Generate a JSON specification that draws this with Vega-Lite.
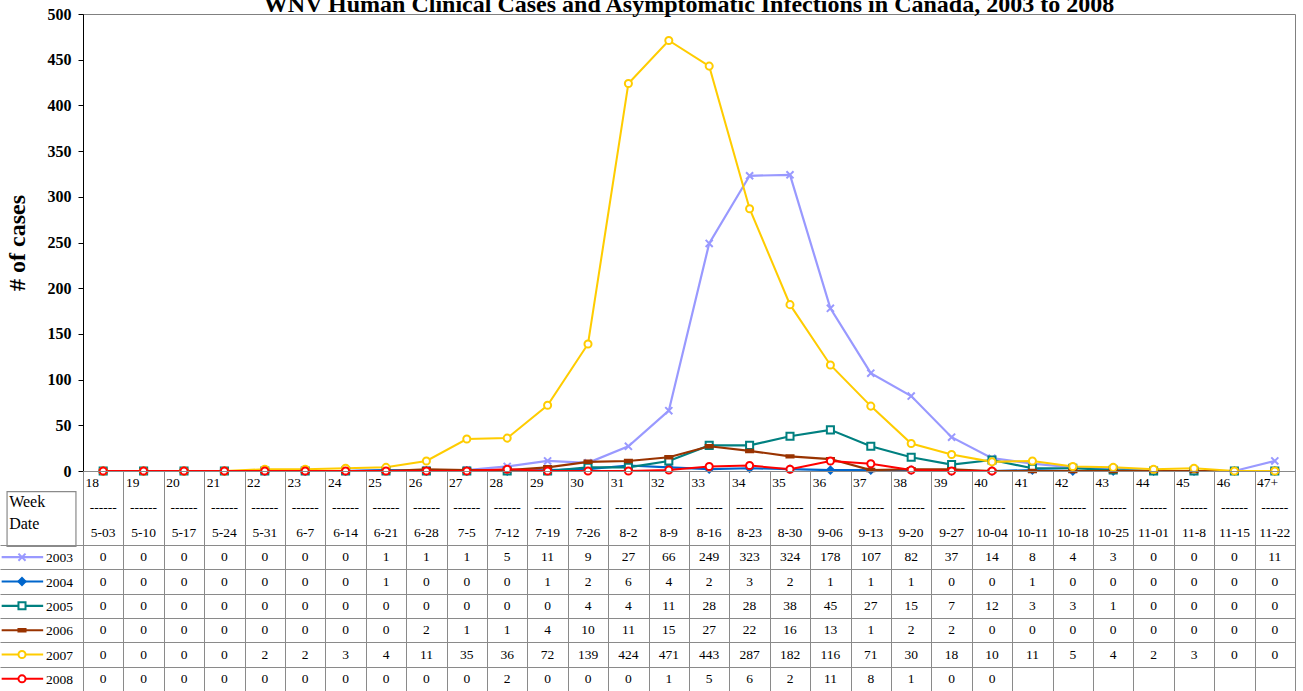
{
  "$schema": "https://vega.github.io/schema/vega-lite/v6.json",
  "padding": {"left": 0, "top": -8, "right": 0, "bottom": 0},
  "background": "#ffffff",
  "columns": 2,
  "spacing": 0,
  "bounds": "flush",
  "config": {
    "font": "Liberation Serif",
    "view": {"stroke": "#8a8a8a", "strokeWidth": 1},
    "text": {"font": "Liberation Serif", "color": "#000000"}
  },
  "datasets": {
    "weeks": [
      {"week": "18", "date": "5-03", "2003": 0, "2004": 0, "2005": 0, "2006": 0, "2007": 0, "2008": 0},
      {"week": "19", "date": "5-10", "2003": 0, "2004": 0, "2005": 0, "2006": 0, "2007": 0, "2008": 0},
      {"week": "20", "date": "5-17", "2003": 0, "2004": 0, "2005": 0, "2006": 0, "2007": 0, "2008": 0},
      {"week": "21", "date": "5-24", "2003": 0, "2004": 0, "2005": 0, "2006": 0, "2007": 0, "2008": 0},
      {"week": "22", "date": "5-31", "2003": 0, "2004": 0, "2005": 0, "2006": 0, "2007": 2, "2008": 0},
      {"week": "23", "date": "6-7", "2003": 0, "2004": 0, "2005": 0, "2006": 0, "2007": 2, "2008": 0},
      {"week": "24", "date": "6-14", "2003": 0, "2004": 0, "2005": 0, "2006": 0, "2007": 3, "2008": 0},
      {"week": "25", "date": "6-21", "2003": 1, "2004": 1, "2005": 0, "2006": 0, "2007": 4, "2008": 0},
      {"week": "26", "date": "6-28", "2003": 1, "2004": 0, "2005": 0, "2006": 2, "2007": 11, "2008": 0},
      {"week": "27", "date": "7-5", "2003": 1, "2004": 0, "2005": 0, "2006": 1, "2007": 35, "2008": 0},
      {"week": "28", "date": "7-12", "2003": 5, "2004": 0, "2005": 0, "2006": 1, "2007": 36, "2008": 2},
      {"week": "29", "date": "7-19", "2003": 11, "2004": 1, "2005": 0, "2006": 4, "2007": 72, "2008": 0},
      {"week": "30", "date": "7-26", "2003": 9, "2004": 2, "2005": 4, "2006": 10, "2007": 139, "2008": 0},
      {"week": "31", "date": "8-2", "2003": 27, "2004": 6, "2005": 4, "2006": 11, "2007": 424, "2008": 0},
      {"week": "32", "date": "8-9", "2003": 66, "2004": 4, "2005": 11, "2006": 15, "2007": 471, "2008": 1},
      {"week": "33", "date": "8-16", "2003": 249, "2004": 2, "2005": 28, "2006": 27, "2007": 443, "2008": 5},
      {"week": "34", "date": "8-23", "2003": 323, "2004": 3, "2005": 28, "2006": 22, "2007": 287, "2008": 6},
      {"week": "35", "date": "8-30", "2003": 324, "2004": 2, "2005": 38, "2006": 16, "2007": 182, "2008": 2},
      {"week": "36", "date": "9-06", "2003": 178, "2004": 1, "2005": 45, "2006": 13, "2007": 116, "2008": 11},
      {"week": "37", "date": "9-13", "2003": 107, "2004": 1, "2005": 27, "2006": 1, "2007": 71, "2008": 8},
      {"week": "38", "date": "9-20", "2003": 82, "2004": 1, "2005": 15, "2006": 2, "2007": 30, "2008": 1},
      {"week": "39", "date": "9-27", "2003": 37, "2004": 0, "2005": 7, "2006": 2, "2007": 18, "2008": 0},
      {"week": "40", "date": "10-04", "2003": 14, "2004": 0, "2005": 12, "2006": 0, "2007": 10, "2008": 0},
      {"week": "41", "date": "10-11", "2003": 8, "2004": 1, "2005": 3, "2006": 0, "2007": 11, "2008": null},
      {"week": "42", "date": "10-18", "2003": 4, "2004": 0, "2005": 3, "2006": 0, "2007": 5, "2008": null},
      {"week": "43", "date": "10-25", "2003": 3, "2004": 0, "2005": 1, "2006": 0, "2007": 4, "2008": null},
      {"week": "44", "date": "11-01", "2003": 0, "2004": 0, "2005": 0, "2006": 0, "2007": 2, "2008": null},
      {"week": "45", "date": "11-8", "2003": 0, "2004": 0, "2005": 0, "2006": 0, "2007": 3, "2008": null},
      {"week": "46", "date": "11-15", "2003": 0, "2004": 0, "2005": 0, "2006": 0, "2007": 0, "2008": null},
      {"week": "47+", "date": "11-22", "2003": 11, "2004": 0, "2005": 0, "2006": 0, "2007": 0, "2008": null}
    ],
    "series": [
      {"series": "2003"}, {"series": "2004"}, {"series": "2005"},
      {"series": "2006"}, {"series": "2007"}, {"series": "2008"}
    ]
  },
  "concat": [
    {
      "width": 83,
      "height": 457,
      "view": {"stroke": null},
      "data": {"name": "series"},
      "mark": {"type": "text"},
      "encoding": {"text": {"value": ""}}
    },
    {
      "width": 1212,
      "height": 457,
      "title": {
        "text": "WNV Human Clinical Cases and Asymptomatic Infections in Canada, 2003 to 2008",
        "anchor": "middle",
        "frame": "group",
        "offset": -30,
        "baseline": "alphabetic",
        "font": "Liberation Serif",
        "fontSize": 24,
        "fontWeight": "bold",
        "color": "#000000"
      },
      "view": {"stroke": "#808080"},
      "data": {"name": "weeks"},
      "transform": [
        {"fold": ["2003", "2004", "2005", "2006", "2007", "2008"], "as": ["series", "value"]},
        {"filter": "isValid(datum.value)"}
      ],
      "encoding": {
        "x": {
          "field": "week",
          "type": "ordinal",
          "scale": {"type": "point", "padding": 0.5, "domain": ["18","19","20","21","22","23","24","25","26","27","28","29","30","31","32","33","34","35","36","37","38","39","40","41","42","43","44","45","46","47+"]},
          "axis": null
        },
        "y": {
          "field": "value",
          "type": "quantitative",
          "scale": {"domain": [0, 500], "nice": false},
          "axis": {
            "values": [0, 50, 100, 150, 200, 250, 300, 350, 400, 450, 500],
            "grid": false,
            "domainColor": "#000000",
            "tickColor": "#000000",
            "tickSize": 5,
            "labelFont": "Liberation Serif",
            "labelFontSize": 16,
            "labelFontWeight": "bold",
            "labelColor": "#000000",
            "labelPadding": 7,
            "title": "# of cases",
            "titleFont": "Liberation Serif",
            "titleFontSize": 24,
            "titleFontWeight": "bold",
            "titleColor": "#000000",
            "titlePadding": 18
          }
        }
      },
      "layer": [
        {
          "mark": {"type": "line"},
          "encoding": {
            "color": {
              "field": "series", "type": "nominal",
              "scale": {"domain": ["2003","2004","2005","2006","2007","2008"], "range": ["#9999FF","#0066CC","#008080","#993300","#FFCC00","#FF0000"]},
              "legend": null
            },
            "strokeWidth": {
              "field": "series", "type": "nominal",
              "scale": {"domain": ["2003","2004","2005","2006","2007","2008"], "range": [2.2, 2, 2, 2, 1.4, 2.5]},
              "legend": null
            }
          }
        },
        {
          "mark": {"type": "point", "size": 50, "strokeWidth": 2, "opacity": 1},
          "encoding": {
            "shape": {
              "field": "series", "type": "nominal",
              "scale": {"domain": ["2003","2004","2005","2006","2007","2008"], "range": ["M-1,-1L1,1M-1,1L1,-1","diamond","square","M-1,-0.35L1,-0.35L1,0.35L-1,0.35Z","circle","circle"]},
              "legend": null
            },
            "stroke": {
              "field": "series", "type": "nominal",
              "scale": {"domain": ["2003","2004","2005","2006","2007","2008"], "range": ["#9999FF","#0066CC","#008080","#993300","#FFCC00","#FF0000"]},
              "legend": null
            },
            "fill": {
              "field": "series", "type": "nominal",
              "scale": {"domain": ["2003","2004","2005","2006","2007","2008"], "range": ["transparent","#0066CC","#FFFFFF","#993300","#FFFFFF","#FFFFFF"]},
              "legend": null
            }
          }
        }
      ]
    },
    {
      "width": 83,
      "height": 74,
      "view": {"stroke": null},
      "data": {"name": "series"},
      "encoding": {
        "x": {"datum": 0.085, "type": "quantitative", "scale": {"domain": [0, 1], "nice": false, "zero": false}, "axis": null},
        "y": {"datum": 0.28, "type": "quantitative", "scale": {"domain": [0, 1], "nice": false, "zero": false, "reverse": true}, "axis": null}
      },
      "layer": [
        {
          "transform": [{"filter": "datum.series == '2003'"}],
          "mark": {"type": "rect", "fill": "#ffffff", "stroke": "#8a8a8a", "strokeWidth": 1.2, "clip": false},
          "encoding": {
            "x2": {"datum": 0.915},
            "y2": {"datum": 1.02}
          }
        },
        {
          "transform": [{"filter": "datum.series == '2003'"}],
          "mark": {"type": "text", "align": "left", "baseline": "alphabetic", "fontSize": 16},
          "encoding": {
            "x": {"datum": 0.11, "type": "quantitative"},
            "y": {"datum": 0.49, "type": "quantitative"},
            "text": {"value": "Week"}
          }
        },
        {
          "transform": [{"filter": "datum.series == '2003'"}],
          "mark": {"type": "text", "align": "left", "baseline": "alphabetic", "fontSize": 16},
          "encoding": {
            "x": {"datum": 0.11, "type": "quantitative"},
            "y": {"datum": 0.79, "type": "quantitative"},
            "text": {"value": "Date"}
          }
        }
      ]
    },
    {
      "width": 1212,
      "height": 74,
      "data": {"name": "weeks"},
      "encoding": {
        "x": {
          "field": "week",
          "type": "ordinal",
          "scale": {"type": "band", "paddingInner": 0, "paddingOuter": 0, "domain": ["18","19","20","21","22","23","24","25","26","27","28","29","30","31","32","33","34","35","36","37","38","39","40","41","42","43","44","45","46","47+"]},
          "axis": {"labels": false, "ticks": false, "domain": false, "title": null, "grid": true, "tickBand": "extent", "gridColor": "#8a8a8a", "gridOpacity": 1, "gridWidth": 1}
        }
      },
      "layer": [
        {
          "mark": {"type": "text", "align": "left", "baseline": "middle", "fontSize": 13.5, "dx": 2.5},
          "encoding": {
            "x": {"field": "week", "type": "ordinal", "bandPosition": 0},
            "y": {"datum": "a", "type": "nominal", "scale": {"type": "band", "domain": ["a", "b", "c"], "paddingInner": 0, "paddingOuter": 0}, "axis": null},
            "text": {"field": "week"}
          }
        },
        {
          "mark": {"type": "text", "align": "center", "baseline": "middle", "fontSize": 13.5},
          "encoding": {
            "y": {"datum": "b", "type": "nominal"},
            "text": {"value": "------"}
          }
        },
        {
          "mark": {"type": "text", "align": "center", "baseline": "middle", "fontSize": 13.5},
          "encoding": {
            "y": {"datum": "c", "type": "nominal"},
            "text": {"field": "date"}
          }
        }
      ]
    },
    {
      "width": 83,
      "height": 146,
      "view": {"stroke": null},
      "data": {"name": "series"},
      "encoding": {
        "y": {
          "field": "series",
          "type": "nominal",
          "scale": {"type": "band", "paddingInner": 0, "paddingOuter": 0, "domain": ["2003","2004","2005","2006","2007","2008"]},
          "axis": {"labels": false, "ticks": false, "domain": false, "title": null, "grid": true, "tickBand": "extent", "gridColor": "#8a8a8a", "gridOpacity": 1, "gridWidth": 1}
        }
      },
      "layer": [
        {
          "mark": {"type": "rule"},
          "encoding": {
            "x": {"datum": 0.02, "type": "quantitative", "scale": {"domain": [0, 1], "nice": false, "zero": false}, "axis": null},
            "x2": {"datum": 0.52},
            "color": {"field": "series", "type": "nominal", "legend": null},
            "strokeWidth": {"field": "series", "type": "nominal", "legend": null}
          }
        },
        {
          "mark": {"type": "point", "size": 50, "strokeWidth": 2, "opacity": 1},
          "encoding": {
            "x": {"datum": 0.265, "type": "quantitative"},
            "shape": {"field": "series", "type": "nominal", "legend": null},
            "stroke": {"field": "series", "type": "nominal", "legend": null},
            "fill": {"field": "series", "type": "nominal", "legend": null}
          }
        },
        {
          "mark": {"type": "text", "align": "left", "baseline": "middle", "fontSize": 13.5, "dy": 1},
          "encoding": {
            "x": {"datum": 0.555, "type": "quantitative"},
            "text": {"field": "series"}
          }
        }
      ]
    },
    {
      "width": 1212,
      "height": 146,
      "data": {"name": "weeks"},
      "transform": [
        {"fold": ["2003", "2004", "2005", "2006", "2007", "2008"], "as": ["series", "value"]},
        {"filter": "isValid(datum.value)"}
      ],
      "mark": {"type": "text", "align": "center", "baseline": "middle", "fontSize": 13.5},
      "encoding": {
        "x": {
          "field": "week",
          "type": "ordinal",
          "scale": {"type": "band", "paddingInner": 0, "paddingOuter": 0, "domain": ["18","19","20","21","22","23","24","25","26","27","28","29","30","31","32","33","34","35","36","37","38","39","40","41","42","43","44","45","46","47+"]},
          "axis": {"labels": false, "ticks": false, "domain": false, "title": null, "grid": true, "tickBand": "extent", "gridColor": "#8a8a8a", "gridOpacity": 1, "gridWidth": 1}
        },
        "y": {
          "field": "series",
          "type": "nominal",
          "scale": {"type": "band", "paddingInner": 0, "paddingOuter": 0, "domain": ["2003","2004","2005","2006","2007","2008"]},
          "axis": {"labels": false, "ticks": false, "domain": false, "title": null, "grid": true, "tickBand": "extent", "gridColor": "#8a8a8a", "gridOpacity": 1, "gridWidth": 1}
        },
        "text": {"field": "value", "type": "quantitative"}
      }
    }
  ]
}
